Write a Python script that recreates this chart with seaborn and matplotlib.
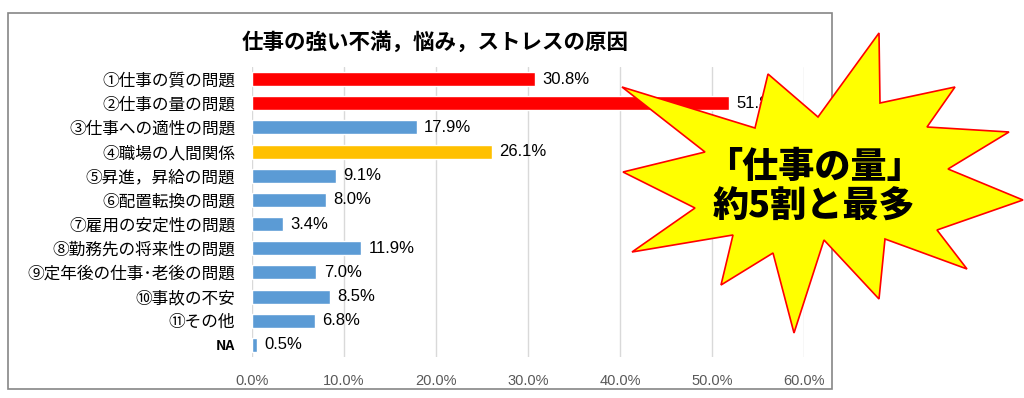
import seaborn as sns
import matplotlib.pyplot as plt
from matplotlib.patches import Polygon, Rectangle
from matplotlib.ticker import FuncFormatter

# data
categories = ['①仕事の質の問題', '②仕事の量の問題', '③仕事への適性の問題', '④職場の人間関係',
              '⑤昇進，昇給の問題', '⑥配置転換の問題', '⑦雇用の安定性の問題', '⑧勤務先の将来性の問題',
              '⑨定年後の仕事･老後の問題', '⑩事故の不安', '⑪その他', 'NA']
values = [30.8, 51.8, 17.9, 26.1, 9.1, 8.0, 3.4, 11.9, 7.0, 8.5, 6.8, 0.5]
bar_colors = ['#FF0000', '#FF0000', '#5B9BD5', '#FFC000', '#5B9BD5', '#5B9BD5',
              '#5B9BD5', '#5B9BD5', '#5B9BD5', '#5B9BD5', '#5B9BD5', '#5B9BD5']
title = '仕事の強い不満，悩み，ストレスの原因'
callout = '「仕事の量」\n約5割と最多'

# starburst outline (figure pixels, origin top-left)
burst = [(622, 87), (755, 128), (768, 74), (818, 117), (879, 33), (880, 103),
         (955, 87), (927, 127), (1009, 132), (948, 169), (1023, 200), (937, 230),
         (967, 269), (885, 239), (879, 299), (824, 240), (794, 333), (773, 253),
         (721, 285), (733, 235), (632, 252), (695, 208), (623, 172), (705, 152)]

sns.set_theme(style='white')
plt.rcParams['font.family'] = ['Noto Sans CJK JP', 'DejaVu Sans']

W, H = 1024, 398
fig = plt.figure(figsize=(W / 100, H / 100), dpi=100)
ax = fig.add_axes([252 / W, 1 - 357 / H, (804 - 252) / W, (357 - 67) / H])

sns.barplot(x=values, y=categories, hue=categories, palette=bar_colors,
            saturation=1, legend=False, orient='h', width=0.58, ax=ax, zorder=3)

ax.set_xlim(0, 60)
ax.set_xticks(range(0, 61, 10))
ax.xaxis.set_major_formatter(FuncFormatter(lambda v, p: f'{v:.1f}%'))
ax.grid(axis='x', color='#D9D9D9', lw=1, zorder=0)
ax.grid(axis='y', visible=False)
for s in ax.spines.values():
    s.set_visible(False)
ax.set_xlabel('')
ax.set_ylabel('')
ax.tick_params(axis='x', length=0, pad=12, labelsize=10.5, labelcolor='#595959')
ax.tick_params(axis='y', length=0, pad=12, labelsize=12, labelcolor='#000000')
for lbl in ax.get_xticklabels():
    lbl.set_family(['Liberation Sans', 'DejaVu Sans'])
for lbl in ax.get_yticklabels():
    if lbl.get_text() == 'NA':
        lbl.set_fontsize(10)
        lbl.set_fontweight('bold')

for i, v in enumerate(values):
    ax.text(v + 0.8, i, f'{v:.1f}%', va='center', ha='left', fontsize=12,
            color='#000000', family=['Liberation Sans', 'DejaVu Sans'], zorder=4)

# chart frame and title
fig.patches.append(Rectangle((8 / W, 1 - 389 / H), (832 - 8) / W, (389 - 13) / H,
                             transform=fig.transFigure, fill=False,
                             edgecolor='#868686', lw=1.2))
fig.text(435 / W, 1 - 42 / H, title, ha='center', va='center',
         fontsize=15.5, fontweight='bold', color='#000000')

# starburst callout
pts = [(x / W, 1 - y / H) for x, y in burst]
fig.patches.append(Polygon(pts, closed=True, transform=fig.transFigure,
                           facecolor='#FFFF00', edgecolor='#FF0000', lw=1.2, zorder=10))
fig.text(814 / W, 1 - 187 / H, callout, ha='center', va='center', fontsize=26,
         fontweight='heavy', color='#000000', linespacing=1.15, zorder=11)

plt.savefig('out.png', dpi=100)
